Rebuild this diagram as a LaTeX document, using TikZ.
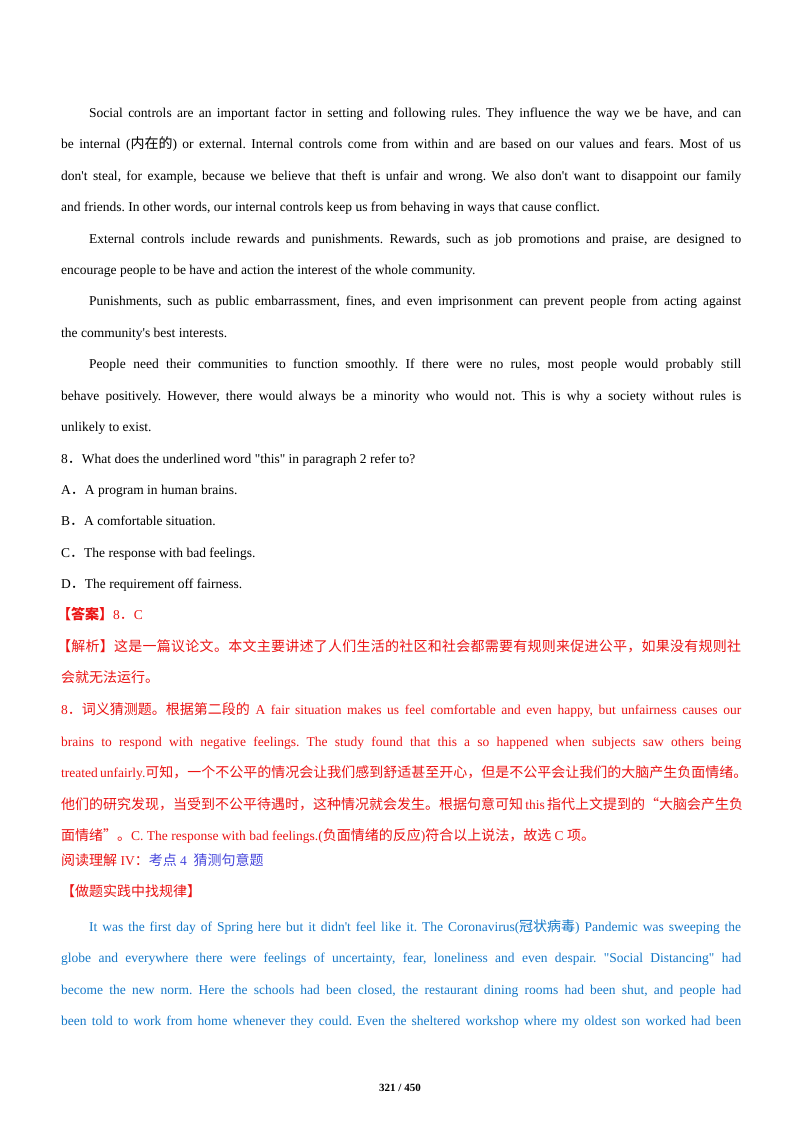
\documentclass[tikz,border=0pt]{standalone}
\usepackage{fontspec}
\defaultfontfeatures{}
\setmainfont{Liberation Serif}[Ligatures=NoCommon]
\newfontfamily\cjk{Noto Sans CJK SC}
\frenchspacing
\XeTeXinterchartokenstate=1
\newXeTeXintercharclass\cjkclass
\newcount\cc
\cc="4E00 \loop\XeTeXcharclass\cc=\cjkclass \advance\cc by 1 \ifnum\cc<"9FFF\repeat
\cc="3000 \loop\XeTeXcharclass\cc=\cjkclass \advance\cc by 1 \ifnum\cc<"3040\repeat
\cc="FF00 \loop\XeTeXcharclass\cc=\cjkclass \advance\cc by 1 \ifnum\cc<"FFF0\repeat
\XeTeXcharclass"201C=\cjkclass \XeTeXcharclass"201D=\cjkclass
\XeTeXinterchartoks\cjkclass\cjkclass={\hskip0pt plus 3pt\relax}
\newcommand{\zh}[1]{{\cjk\fontsize{14bp}{16bp}\selectfont #1}}
\newcommand{\zhn}[1]{{\XeTeXinterchartokenstate=0 \cjk\fontsize{14bp}{16bp}\selectfont #1}}
\newcommand{\jf}[1]{\makebox[680bp][s]{#1}}
\newcommand{\ji}[1]{\makebox[652bp][s]{#1}}
\newcommand{\ap}{\textquotesingle}
\newcommand{\qq}{\textquotedbl}
\definecolor{ansred}{RGB}{235,20,20}
\definecolor{parablue}{RGB}{20,120,200}
\definecolor{kdblue}{RGB}{70,70,220}
\begin{document}
\begin{tikzpicture}[x=1bp,y=-1bp,
  every node/.style={inner sep=0pt,anchor=base west,font=\fontsize{13.5bp}{16bp}\selectfont}]
\useasboundingbox (0,0) rectangle (800,1132);
\fill[white] (0,0) rectangle (800,1132);
\node (l1) at (89,117) {\ji{Social controls are an important factor in setting and following rules. They influence the way we be have, and can}};
\node (l2) at (61,148) {\jf{be internal (\zhn{内在的}) or external. Internal controls come from within and are based on our values and fears. Most of us}};
\node (l3) at (61,180) {\jf{don\ap t steal, for example, because we believe that theft is unfair and wrong. We also don\ap t want to disappoint our family}};
\node (l4) at (61,211) {and friends. In other words, our internal controls keep us from behaving in ways that cause conflict.};
\node (l5) at (89,243) {\ji{External controls include rewards and punishments. Rewards, such as job promotions and praise, are designed to}};
\node (l6) at (61,274) {encourage people to be have and action the interest of the whole community.};
\node (l7) at (89,305) {\ji{Punishments, such as public embarrassment, fines, and even imprisonment can prevent people from acting against}};
\node (l8) at (61,337) {the community\ap s best interests.};
\node (l9) at (89,368) {\ji{People need their communities to function smoothly. If there were no rules, most people would probably still}};
\node (l10) at (61,400) {\jf{behave positively. However, there would always be a minority who would not. This is why a society without rules is}};
\node (l11) at (61,431) {unlikely to exist.};
\node (q) at (61,463) {8\zh{．}What does the underlined word \qq this\qq{} in paragraph 2 refer to?};
\node (qa) at (61,494) {A\zh{．}A program in human brains.};
\node (qb) at (61,525) {B\zh{．}A comfortable situation.};
\node (qc) at (61,557) {C\zh{．}The response with bad feelings.};
\node (qd) at (61,588) {D\zh{．}The requirement off fairness.};
\node[text=ansred] (ans) at (57,619) {\zh{\bfseries 【答案】}8\zh{．}C};
\node[text=ansred] (j1) at (57,651) {\makebox[684bp][s]{\zh{【解析】这是一篇议论文。本文主要讲述了人们生活的社区和社会都需要有规则来促进公平，如果没有规则社}}};
\node[text=ansred] (j2) at (61,682) {\zh{会就无法运行。}};
\node[text=ansred] (j3) at (61,714) {\jf{8\zhn{．词义猜测题。根据第二段的}\ A fair situation makes us feel comfortable and even happy, but unfairness causes our}};
\node[text=ansred] (j4) at (61,746) {\jf{brains to respond with negative feelings. The study found that this a so happened when subjects saw others being}};
\node[text=ansred] (j5) at (61,777) {\jf{treated unfairly.\zh{可知，一个不公平的情况会让我们感到舒适甚至开心，但是不公平会让我们的大脑产生负面情绪。}}};
\node[text=ansred] (j6) at (61,809) {\jf{\zh{他们的研究发现，当受到不公平待遇时，这种情况就会发生。根据句意可知}\ this \zh{指代上文提到的“大脑会产生负}}};
\node[text=ansred] (j7) at (61,840) {\zh{面情绪”。}C. The response with bad feelings.(\zh{负面情绪的反应})\zh{符合以上说法，故选}\ C \zh{项。}};
\node[text=ansred] (k1) at (61,865) {\zh{阅读理解}\ IV\zh{：}\textcolor{kdblue}{\zh{考点}\ 4\ \ \zh{猜测句意题}}};
\node[text=ansred] (k2) at (61,896) {\zh{【做题实践中找规律】}};
\node[text=parablue] (p1) at (89,931) {\ji{It was the first day of Spring here but it didn\ap t feel like it. The Coronavirus(\zhn{冠状病毒}) Pandemic was sweeping the}};
\node[text=parablue] (p2) at (61,962) {\jf{globe and everywhere there were feelings of uncertainty, fear, loneliness and even despair. \qq Social Distancing\qq{} had}};
\node[text=parablue] (p3) at (61,994) {\jf{become the new norm. Here the schools had been closed, the restaurant dining rooms had been shut, and people had}};
\node[text=parablue] (p4) at (61,1025) {\jf{been told to work from home whenever they could. Even the sheltered workshop where my oldest son worked had been}};
\node[anchor=base,font=\fontsize{11bp}{13bp}\selectfont\bfseries] (pg) at (400,1091) {321 / 450};
\end{tikzpicture}
\end{document}
